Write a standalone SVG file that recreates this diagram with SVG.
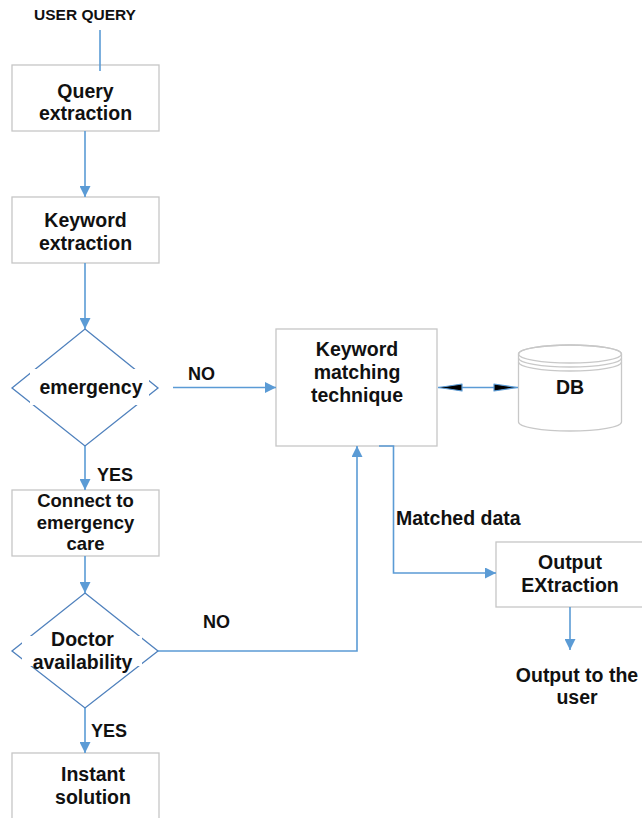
<svg xmlns="http://www.w3.org/2000/svg" width="642" height="818" viewBox="0 0 642 818">
<defs>
<style>
.box{fill:#fff;stroke:#c6c6c6;stroke-width:1.3}
.dia{fill:none;stroke:#4f81bd;stroke-width:1.3}
.mask{fill:#fff;stroke:none}
.cyl{fill:#fff;stroke:#c8c8c8;stroke-width:1.3}
.cyln{fill:none;stroke:#c8c8c8;stroke-width:1.3}
.con{fill:none;stroke:#5b9bd5;stroke-width:1.6}
.dhead{fill:#000;stroke:#5b9bd5;stroke-width:1.2;stroke-linejoin:round}
.t{font-family:"Liberation Sans",Arial,sans-serif;font-weight:bold;font-size:19.5px;fill:#111;text-anchor:middle}
.s{font-size:18.5px}
.lbl{font-family:"Liberation Sans",Arial,sans-serif;font-weight:bold;font-size:18px;fill:#111}
</style>
<marker id="arr" viewBox="0 0 11 11" refX="11" refY="5.5" markerWidth="11" markerHeight="11" markerUnits="userSpaceOnUse" orient="auto">
<path d="M0,0 L11,5.5 L0,11 Z" fill="#5b9bd5"/>
</marker>
</defs>
<rect width="642" height="818" fill="#fff"/>

<g id="user-query">
<text class="t" x="85" y="20" style="font-size:15.5px">USER QUERY</text>
</g>

<g id="query-extraction">
<rect class="box" x="12" y="65" width="147" height="66"/>
<text class="t" x="85.5" y="98">Query</text>
<text class="t" x="85.5" y="120">extraction</text>
</g>

<g id="keyword-extraction">
<rect class="box" x="12" y="197" width="147" height="66"/>
<text class="t" x="85.5" y="227">Keyword</text>
<text class="t" x="85.5" y="250">extraction</text>
</g>

<g id="emergency">
<path class="dia" d="M85,329 L158,388 L85,446 L12,388 Z"/>
<rect class="mask" x="30" y="369" width="119" height="36"/>
<text class="t" x="91" y="393.5">emergency</text>
</g>

<g id="connect-emergency">
<rect class="box" x="12" y="490" width="147" height="66"/>
<text class="t s" x="85.5" y="507">Connect to</text>
<text class="t s" x="85.5" y="528.5">emergency</text>
<text class="t s" x="85.5" y="550">care</text>
</g>

<g id="doctor-availability">
<path class="dia" d="M85,593 L158,651 L85,708 L12,651 Z"/>
<rect class="mask" x="22" y="636" width="120" height="30"/>
<text class="t" x="82.5" y="646">Doctor</text>
<text class="t" x="82.5" y="668.5">availability</text>
</g>

<g id="instant-solution">
<rect class="box" x="12" y="753" width="147" height="67"/>
<text class="t" x="93" y="781">Instant</text>
<text class="t" x="93" y="804">solution</text>
</g>

<g id="keyword-matching">
<rect class="box" x="276" y="329" width="161" height="117"/>
<text class="t" x="357" y="356">Keyword</text>
<text class="t" x="357" y="379">matching</text>
<text class="t" x="357" y="402">technique</text>
</g>

<g id="db">
<path class="cyl" d="M518.5,354 A51.5,9 0 0 1 621.5,354 V422 A51.5,9 0 0 1 518.5,422 Z"/>
<ellipse class="cyln" cx="570" cy="354" rx="51.5" ry="9"/>
<path class="cyln" d="M518.5,358 A51.5,9 0 0 0 621.5,358"/>
<path class="cyln" d="M518.5,362 A51.5,9 0 0 0 621.5,362"/>
<text class="t" x="570" y="393.5">DB</text>
</g>

<g id="output-extraction">
<rect class="box" x="496" y="542" width="148" height="65"/>
<text class="t" x="570" y="569">Output</text>
<text class="t" x="570" y="592">EXtraction</text>
</g>

<g id="output-user">
<text class="t" x="577" y="682">Output to the</text>
<text class="t" x="577" y="704">user</text>
</g>

<g id="connectors">
<line class="con" x1="100" y1="30" x2="100" y2="71"/>
<line class="con" x1="85" y1="131" x2="85" y2="197" marker-end="url(#arr)"/>
<line class="con" x1="85" y1="263" x2="85" y2="329" marker-end="url(#arr)"/>
<line class="con" x1="85" y1="446" x2="85" y2="490" marker-end="url(#arr)"/>
<line class="con" x1="173" y1="387.5" x2="276" y2="387.5" marker-end="url(#arr)"/>
<line class="con" x1="85" y1="556" x2="85" y2="593" marker-end="url(#arr)"/>
<path class="con" d="M158,651 H357 V446" marker-end="url(#arr)"/>
<line class="con" x1="85" y1="708" x2="85" y2="753" marker-end="url(#arr)"/>
<path class="con" d="M379,446 H393.5 V573 H496" marker-end="url(#arr)"/>
<line class="con" x1="570" y1="607" x2="570" y2="650" marker-end="url(#arr)"/>
<line class="con" x1="438" y1="387.5" x2="518" y2="387.5"/>
<polygon class="dhead" points="439,387.5 462,384 462,391"/>
<polygon class="dhead" points="517,387.5 494,384 494,391"/>
<text class="lbl" x="188" y="380">NO</text>
<text class="lbl" x="97" y="481">YES</text>
<text class="lbl" x="203" y="628">NO</text>
<text class="lbl" x="91" y="737">YES</text>
<text class="lbl" x="396" y="525" style="font-size:19.5px">Matched data</text>
</g>
</svg>
